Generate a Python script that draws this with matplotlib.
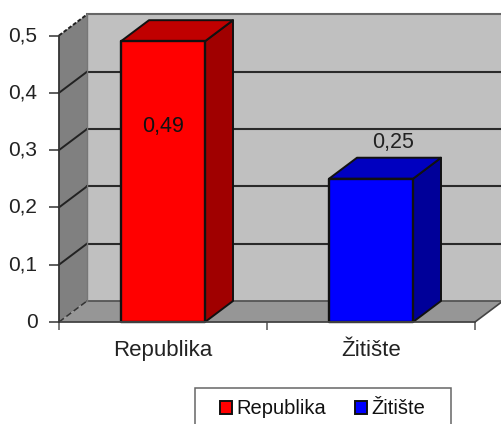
import numpy as np
import matplotlib
matplotlib.use("Agg")
import matplotlib.pyplot as plt
from matplotlib.patches import Polygon, Patch, Rectangle

plt.rcParams["font.family"] = ["Liberation Sans", "DejaVu Sans"]

categories = ["Republika", "Žitište"]
values = [0.49, 0.25]
y_ticks = [0, 0.1, 0.2, 0.3, 0.4, 0.5]
y_labels = ["0", "0,1", "0,2", "0,3", "0,4", "0,5"]
front_colors = ["#ff0000", "#0000ff"]
top_colors = ["#c00000", "#0000c0"]
side_colors = ["#a00000", "#000099"]

W, H = 502, 424
# depth of the fake 3d box, in data units
dx = 28 / 208.0
dy = 21 / 572.0
bar_w = 84 / 208.0

fig = plt.figure(figsize=(W / 100, H / 100), dpi=100)
ax = fig.add_axes([59 / W, 1 - 322 / H, 416 / W, 286.5 / H])
ax.set_xlim(-0.5, 1.5)
ax.set_ylim(0, 0.5)
ax.patch.set_visible(False)
for s in ax.spines.values():
    s.set_visible(False)


def poly(pts, color, edge="none", lw=0, z=1):
    ax.add_patch(Polygon(pts, closed=True, facecolor=color, edgecolor=edge,
                         linewidth=lw, clip_on=False, zorder=z, joinstyle="round"))


x0, x1 = -0.5, 1.5
top = 0.5
# walls and floor
poly([(x0 + dx, dy), (x1 + dx, dy), (x1 + dx, top + dy), (x0 + dx, top + dy)], "#c0c0c0")
poly([(x0, 0), (x0 + dx, dy), (x0 + dx, top + dy), (x0, top)], "#808080")
poly([(x0, 0), (x1, 0), (x1 + dx, dy), (x0 + dx, dy)], "#969696")

# gridlines
for t in y_ticks[1:]:
    ax.plot([x0 + dx, x1 + dx], [t + dy, t + dy], color="#2a2a2a" if t < 0.5 else "#666666",
            lw=1.5, clip_on=False, zorder=2)
    ax.plot([x0, x0 + dx], [t, t + dy], color="#222222", lw=1.4,
            ls="-" if t < 0.5 else (0, (2, 1)), clip_on=False, zorder=2)
ax.plot([x0 + dx, x1 + dx], [dy, dy], color="#555555", lw=1.3, clip_on=False, zorder=2)
ax.plot([x0 + dx, x0 + dx], [dy, top + dy], color="#777777", lw=1, clip_on=False, zorder=2)
ax.plot([x0, x0 + dx], [0, dy], color="#333333", lw=1.1, ls=(0, (4, 2)), clip_on=False, zorder=2)
ax.plot([x1, x1 + dx], [0, dy], color="#444444", lw=1.2, clip_on=False, zorder=2)

# bars
for i, v in enumerate(values):
    l, r = i - bar_w / 2, i + bar_w / 2
    poly([(r, 0), (r + dx, dy), (r + dx, v + dy), (r, v)], side_colors[i], "#111111", 1.4, 3)
    poly([(l, v), (r, v), (r + dx, v + dy), (l + dx, v + dy)], top_colors[i], "#111111", 1.4, 3)
    poly([(l, 0), (r, 0), (r, v), (l, v)], front_colors[i], "#111111", 1.7, 4)

# axis lines
ax.plot([x0, x1], [0, 0], color="#444444", lw=1.3, clip_on=False, zorder=5)
ax.plot([x0, x0], [0, top], color="#333333", lw=1.3, clip_on=False, zorder=5)

ax.set_yticks(y_ticks)
ax.set_yticklabels(y_labels, fontsize=15, color="#222222", va="center")
for lab in ax.get_yticklabels():
    lab.set_y(lab.get_position()[1])
ax.set_xticks([-0.5, 0.5, 1.5])
ax.set_xticklabels([])
ax.set_xticks([0, 1], minor=True)
ax.set_xticklabels(categories, minor=True, fontsize=16, color="#222222")
ax.tick_params(axis="y", length=7, width=1.1, color="#333333", pad=8.5)
ax.tick_params(axis="x", which="major", length=6, width=1.1, color="#555555")
ax.tick_params(axis="x", which="minor", length=0, pad=13)

# value labels
ax.text(0, 0.3405, "0,49", ha="center", va="center", fontsize=15.5, color="#111111", zorder=6)
ax.text(1 + 22 / 208.0, 0.3125, "0,25", ha="center", va="center", fontsize=15.5, color="#222222", zorder=6)

# legend box runs off the bottom of the picture
fig.add_artist(Rectangle((195 / W, -0.02), 256 / W, 1 - 388 / H + 0.02, transform=fig.transFigure,
                         facecolor="white", edgecolor="#666666", linewidth=1.1))
handles = [Patch(facecolor=front_colors[i], edgecolor="#111111", linewidth=1.4)
           for i in range(2)]
fig.legend(handles, categories, ncol=2, loc="center left",
           bbox_to_anchor=(220 / W, 1 - 409 / H), borderaxespad=0, borderpad=0,
           prop={"size": 14.5}, labelcolor="#111111", frameon=False,
           handlelength=0.6, handleheight=0.6, handletextpad=0.2,
           columnspacing=1.45)

fig.savefig("out.png", dpi=100)
